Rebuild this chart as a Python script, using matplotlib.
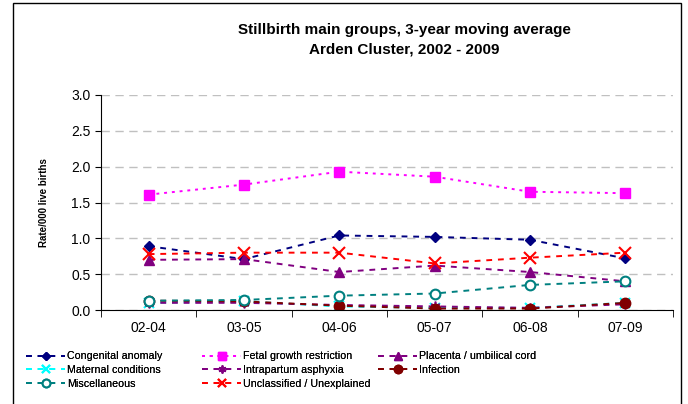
import matplotlib
matplotlib.use('Agg')
import matplotlib.pyplot as plt
from matplotlib.patches import Rectangle

plt.rcParams['font.family'] = ['Liberation Sans', 'DejaVu Sans']

periods = ['02-04', '03-05', '04-06', '05-07', '06-08', '07-09']

congenital = [0.89, 0.71, 1.04, 1.02, 0.98, 0.72]
fetal = [1.61, 1.75, 1.93, 1.86, 1.65, 1.63]
placenta = [0.70, 0.71, 0.53, 0.62, 0.53, 0.40]
maternal = [0.10, 0.12, 0.05, 0.03, 0.03, 0.10]
intrapartum = [0.10, 0.10, 0.07, 0.05, 0.03, 0.08]
infection = [0.13, 0.12, 0.06, 0.02, 0.02, 0.10]
misc = [0.13, 0.14, 0.20, 0.23, 0.35, 0.40]
unclassified = [0.78, 0.80, 0.80, 0.65, 0.73, 0.80]

fig = plt.figure(figsize=(6.88, 4.04), dpi=100)
ax = fig.add_axes([101/688, 1 - 310/404, 572/688, 215/404])

x = range(len(periods))
dash = (0, (3, 3))
dot = (0, (1.5, 2.5))

l1, = ax.plot(x, congenital, color='#000080', ls=dash, lw=1.4, marker='D', ms=5.5, label='Congenital anomaly')
l2, = ax.plot(x, fetal, color='#FF00FF', ls=dot, lw=1.4, marker='s', ms=7.5, label='Fetal growth restriction')
l3, = ax.plot(x, placenta, color='#800080', ls=dash, lw=1.4, marker='^', ms=7.5, label='Placenta / umbilical cord')
l4, = ax.plot(x, maternal, color='#00FFFF', ls=dash, lw=1.4, marker='x', ms=6.5, mew=1.5, label='Maternal conditions')
l5, = ax.plot(x, intrapartum, color='#800080', ls=dash, lw=1.4, marker=(6, 2, 0), ms=7, mew=1.2, label='Intrapartum asphyxia')
l6, = ax.plot(x, infection, color='#800000', ls=dash, lw=1.4, marker='o', ms=7.5, label='Infection')
l7, = ax.plot(x, misc, color='#008080', ls=dash, lw=1.4, marker='o', ms=7, mfc='white', mew=1.5, label='Miscellaneous')
l8, = ax.plot(x, unclassified, color='#FF0000', ls=dash, lw=1.4, marker='x', ms=8, mew=1.5, label='Unclassified / Unexplained')

ax.set_xlim(-0.5, len(periods) - 0.5)
ax.set_ylim(0, 3.0)
ax.set_yticks([0, 0.5, 1.0, 1.5, 2.0, 2.5, 3.0])
ax.set_yticklabels(['0.0', '0.5', '1.0', '1.5', '2.0', '2.5', '3.0'], fontsize=10)
ax.set_xticks(list(x))
ax.set_xticklabels(periods, fontsize=10)
ax.set_xticks([i - 0.5 for i in range(len(periods) + 1)], minor=True)
ax.tick_params(axis='x', which='major', length=0, pad=8)
ax.tick_params(axis='x', which='minor', length=5, direction='out')
ax.tick_params(axis='y', length=4, direction='out')
for s in ['top', 'right']:
    ax.spines[s].set_visible(False)
ax.yaxis.grid(True, color='#C0C0C0', ls=(0, (6, 4)), lw=1)
ax.set_axisbelow(True)
ax.set_ylabel('Rate/000 live births', fontsize=7, fontweight='bold', labelpad=16)

fig.text(404/688, 1 - 30/404, 'Stillbirth main groups, 3-year moving average', ha='center', va='center',
         fontsize=11, fontweight='bold')
fig.text(404/688, 1 - 50/404, 'Arden Cluster, 2002 - 2009', ha='center', va='center',
         fontsize=11, fontweight='bold')

# legend: three columns placed by hand, like the Excel layout
columns = [([l1, l4, l7], 22), ([l2, l5, l8], 198), ([l3, l6], 374)]
for hs, x0 in columns:
    leg = fig.legend(handles=hs, labels=[h.get_label() for h in hs], loc='upper left',
                     bbox_to_anchor=(x0/688, 1 - 347/404), frameon=False, fontsize=7.7,
                     handlelength=3.6, handletextpad=0.25, labelspacing=0.35, borderaxespad=0,
                     markerscale=0.8)
    fig.add_artist(leg)

fig.patches.append(Rectangle((13/688, -0.05), 668/688, 1 - 3/404 + 0.05, transform=fig.transFigure,
                             fill=False, ec='black', lw=1, clip_on=False))

fig.savefig('out.png', dpi=100)
